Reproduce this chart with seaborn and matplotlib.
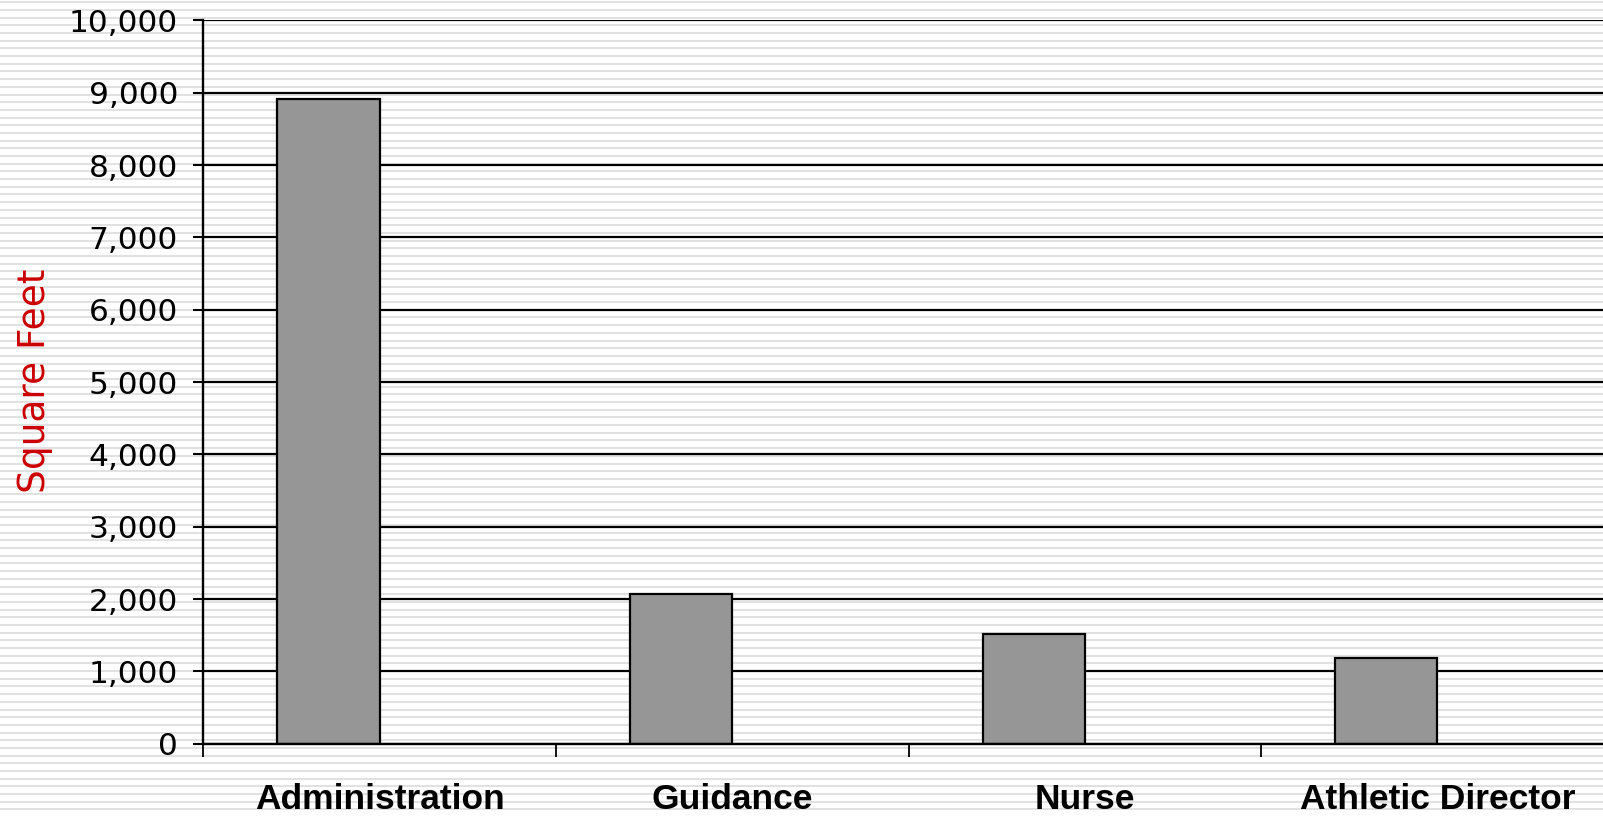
import numpy as np
import pandas as pd
import matplotlib
matplotlib.use("Agg")
import matplotlib.pyplot as plt
import seaborn as sns
from matplotlib.ticker import FuncFormatter

# Data
areas = ["Administration", "Guidance", "Nurse", "Athletic Director"]
square_feet = [8920, 2065, 1515, 1190]
# the original Excel chart reserves a slot for a second (empty) series
series = ["Square Feet", "Empty"]

df = pd.DataFrame({
    "area": areas * 2,
    "sqft": square_feet + [np.nan] * len(areas),
    "series": [series[0]] * len(areas) + [series[1]] * len(areas),
})

W, H = 1603, 817
fig = plt.figure(figsize=(W / 100, H / 100), dpi=100)
fig.patch.set_facecolor("white")

# striped slide background
bg = fig.add_axes([0, 0, 1, 1], zorder=-1)
bg.set_xlim(0, 1)
bg.set_ylim(H, 0)
bg.hlines(np.arange(2.3, H, 7.687), 0, 1, color="#e1e1e1", lw=1.4)
bg.axis("off")

left, top, bottom = 203.4, 20.4, 743.7
ax = fig.add_axes([left / W, (H - bottom) / H, 1410.4 / W, (bottom - top) / H])
ax.set_facecolor("none")
ax.set_axisbelow(True)

sns.barplot(data=df, x="area", y="sqft", hue="series", hue_order=series,
            order=areas, width=0.58, dodge=True, errorbar=None,
            palette=["#969696", "#969696"], edgecolor="black", linewidth=1.6,
            legend=False, ax=ax, zorder=3)

ax.set_xlim(-0.5, 3.5)
ax.set_ylim(0, 10000)
ax.set_yticks(np.arange(0, 10001, 1000))
ax.yaxis.set_major_formatter(FuncFormatter(lambda v, p: f"{v:,.0f}"))
ax.grid(axis="y", color="black", lw=1.6)
ax.grid(axis="x", visible=False)

for s in ["top", "right"]:
    ax.spines[s].set_visible(False)
for s in ["left", "bottom"]:
    ax.spines[s].set_color("black")
    ax.spines[s].set_linewidth(1.7)
    ax.spines[s].set_zorder(4)

ax.tick_params(axis="y", length=7.2, width=1.5, color="black", pad=11,
               labelcolor="black")
ax.set_xticks(np.arange(-0.5, 3.6, 1), minor=True)
ax.tick_params(axis="x", which="minor", length=9, width=1.3, color="black")
ax.tick_params(axis="x", which="major", length=0, pad=28)
for lbl in ax.get_xticklabels():
    lbl.set_family(["Liberation Sans Narrow", "Arial Narrow", "Liberation Sans"])
    lbl.set_fontweight("bold")
    lbl.set_fontsize(25.5)
for lbl in ax.get_yticklabels():
    lbl.set_family("DejaVu Sans")
    lbl.set_fontsize(22.5)

ax.set_xlabel("")
ax.set_ylabel("")
fig.text(35 / W, 1 - 381 / H, "Square Feet", rotation=90, ha="center",
         va="center", fontsize=27, color="#cc0000", family="DejaVu Sans")

fig.savefig("out.png", dpi=100)
